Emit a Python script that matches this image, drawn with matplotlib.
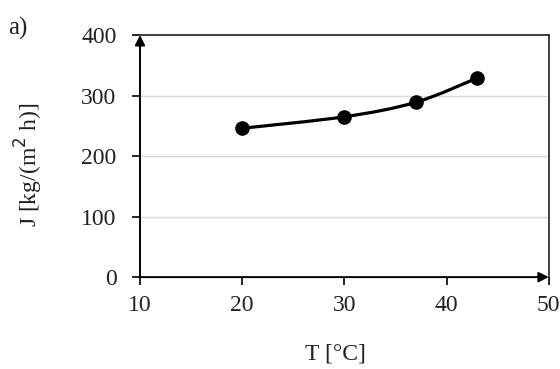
import numpy as np
import matplotlib.pyplot as plt
from matplotlib.path import Path
from matplotlib.patches import PathPatch

# permeate flux vs. feed temperature
temps = [20, 30, 37, 43]
flux = [246, 265, 289, 329]

xticks = [10, 20, 30, 40, 50]
yticks = [0, 100, 200, 300, 400]

plt.rcParams['font.family'] = ['Liberation Serif', 'DejaVu Serif']


def smooth_path(xs, ys, ax):
    # Catmull-Rom style cubic Bezier through the points, built in display space
    pts = ax.transData.transform(np.column_stack([xs, ys]))
    verts = [pts[0]]
    codes = [Path.MOVETO]
    n = len(pts)
    for i in range(n - 1):
        p0 = pts[i - 1] if i > 0 else pts[i]
        p1 = pts[i]
        p2 = pts[i + 1]
        p3 = pts[i + 2] if i + 2 < n else pts[i + 1]
        c1 = p1 + (p2 - p0) / 6.0
        c2 = p2 - (p3 - p1) / 6.0
        verts += [c1, c2, p2]
        codes += [Path.CURVE4] * 3
    return Path(ax.transData.inverted().transform(np.array(verts)), codes)


fig = plt.figure(figsize=(5.6, 3.69), dpi=100)
ax = fig.add_axes([0.25, 0.249, 0.73, 0.656])

ax.set_xlim(10, 50)
ax.set_ylim(0, 400)
ax.set_xticks(xticks)
ax.set_yticks(yticks)
ax.tick_params(labelsize=17, direction='out', length=6, width=1.2, color='black',
               labelcolor='#222222')
ax.tick_params(axis='x', pad=7)
ax.tick_params(axis='y', pad=11)

ax.grid(axis='y', color='#d9d9d9', linewidth=1)
ax.set_axisbelow(True)

for side in ['top', 'right']:
    ax.spines[side].set_linewidth(1.3)
    ax.spines[side].set_color('#333333')
for side in ['left', 'bottom']:
    ax.spines[side].set_visible(False)

# axis arrows
ax.annotate('', xy=(0, 1), xytext=(0, 0), xycoords='axes fraction',
            arrowprops=dict(arrowstyle='-|>', color='black', lw=1.4,
                            mutation_scale=15, shrinkA=0, shrinkB=0))
ax.annotate('', xy=(1, 0), xytext=(0, 0), xycoords='axes fraction',
            arrowprops=dict(arrowstyle='-|>', color='black', lw=1.4,
                            mutation_scale=15, shrinkA=0, shrinkB=0))

fig.canvas.draw()
ax.add_patch(PathPatch(smooth_path(temps, flux, ax), fill=False,
                       edgecolor='black', linewidth=2.3, zorder=3))
ax.plot(temps, flux, 'o', color='black', markersize=9.5, zorder=4)

ax.set_xlabel('T [°C]', fontsize=17, color='#222222')
ax.set_ylabel('J [kg/(m$^2$ h)]', fontsize=17, color='#222222')
ax.xaxis.set_label_coords(0.477, -0.275)
ax.yaxis.set_label_coords(-0.232, 0.463)
fig.text(0.015, 0.905, 'a)', fontsize=18, color='#222222')

fig.savefig('out.png', dpi=100)
